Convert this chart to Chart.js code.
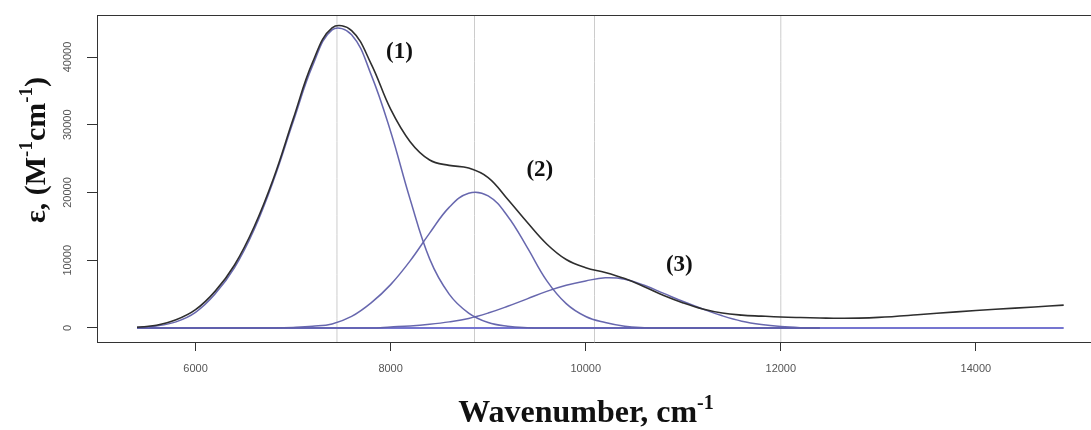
<!DOCTYPE html>
<html>
<head>
<meta charset="utf-8">
<script src="https://cdn.jsdelivr.net/npm/chart.js@4"></script>
<style>
  html, body { margin: 0; padding: 0; background: #fff; }
</style>
</head>
<body>
<canvas id="spectrum-chart" width="1091" height="430"></canvas>
<script>
// wavenumber grid (cm-1) for the fitted bands
const wavenumbers = [5400, 5600, 5800, 6000, 6200, 6400, 6600, 6800, 7000, 7200, 7400, 7600,
  7800, 8000, 8200, 8400, 8600, 8800, 9000, 9200, 9400, 9600, 9800, 10000,
  10200, 10400, 10600, 10800, 11000, 11200, 11400, 11600, 11800, 12000, 12200, 12400];

const band1 = [100, 300, 900, 2300, 5000, 8900, 14500, 21800, 30400, 38700, 44000, 43300,
  37400, 29000, 19000, 10200, 5000, 2200, 800, 250, 50, 0, 0, 0,
  0, 0, 0, 0, 0, 0, 0, 0, 0, 0, 0, 0];

const band2 = [0, 0, 0, 0, 0, 0, 0, 0, 80, 250, 600, 1700,
  3700, 6400, 9900, 14000, 17800, 19900, 19500, 16500, 11900, 7000, 3600, 1700,
  800, 250, 50, 0, 0, 0, 0, 0, 0, 0, 0, 0];

const band3 = [0, 0, 0, 0, 0, 0, 0, 0, 0, 0, 0, 0,
  0, 150, 300, 550, 900, 1400, 2200, 3200, 4300, 5400, 6300, 6950,
  7400, 7200, 6300, 5100, 3900, 2800, 1800, 1000, 500, 200, 50, 0];

const measured = [100, 400, 1200, 2700, 5400, 9300, 14900, 22100, 30800, 39200, 44300, 43900,
  39000, 32300, 27500, 24800, 24000, 23600, 22200, 19000, 15600, 12400, 10100, 8900,
  8200, 7300, 6100, 4800, 3700, 2800, 2200, 1900, 1750, 1620, 1540, 1480];

// measured spectrum keeps going past the last band
const tailWavenumbers = [12600, 12800, 13000, 13400, 13800, 14200, 14600, 14900];
const measuredTail = [1430, 1450, 1560, 1950, 2380, 2760, 3100, 3380];

const baselineRange = [5400, 14900];
const bandCenters = [7450, 8860, 10090, 12000];

const xTicks = [6000, 8000, 10000, 12000, 14000];
const yTicks = [0, 10000, 20000, 30000, 40000];
const xLimits = [4990, 15180];
const yLimits = [-2070, 46200];

const bandLabels = ["(1)", "(2)", "(3)"];
const bandLabelX = [8090, 9530, 10960];
const bandLabelY = [40700, 23300, 9300];

const toPoints = (xs, ys) => xs.map((x, i) => ({ x: x, y: ys[i] }));

const bandColor = "rgba(95, 95, 170, 0.95)";

const lineSet = (data, color, width, order) => ({
  data: data,
  borderColor: color,
  borderWidth: width,
  pointRadius: 0,
  tension: 0.4,
  fill: false,
  order: order,
});

const drawRich = (ctx, parts, cx, baseY, size) => {
  const mainFont = `bold ${size}px "Liberation Serif", "Times New Roman", serif`;
  const supFont = `bold ${Math.round(size * 0.62)}px "Liberation Serif", "Times New Roman", serif`;
  let total = 0;
  parts.forEach((p) => {
    ctx.font = p.sup ? supFont : mainFont;
    total += ctx.measureText(p.t).width;
  });
  let x = cx - total / 2;
  ctx.textAlign = "left";
  ctx.textBaseline = "alphabetic";
  parts.forEach((p) => {
    ctx.font = p.sup ? supFont : mainFont;
    ctx.fillText(p.t, x, p.sup ? baseY - size * 0.42 : baseY);
    x += ctx.measureText(p.t).width;
  });
};

const decorations = {
  id: "decorations",
  afterDraw(chart) {
    const { ctx, chartArea, scales } = chart;
    ctx.save();
    // top edge of the box
    ctx.strokeStyle = "#333";
    ctx.lineWidth = 1;
    ctx.beginPath();
    ctx.moveTo(chartArea.left, chartArea.top + 0.5);
    ctx.lineTo(chartArea.right, chartArea.top + 0.5);
    ctx.stroke();

    // rotated y tick labels
    ctx.fillStyle = "#555";
    ctx.font = '11px "Liberation Sans", Arial, sans-serif';
    ctx.textAlign = "center";
    ctx.textBaseline = "middle";
    yTicks.forEach((v) => {
      const py = scales.y.getPixelForValue(v);
      ctx.save();
      ctx.translate(68, py);
      ctx.rotate(-Math.PI / 2);
      ctx.fillText(String(v), 0, 0);
      ctx.restore();
    });

    // axis titles
    ctx.fillStyle = "#111";
    drawRich(ctx, [
      { t: "Wavenumber, cm" },
      { t: "-1", sup: true },
    ], 586, 422, 32);

    ctx.save();
    ctx.translate(45, 150);
    ctx.rotate(-Math.PI / 2);
    drawRich(ctx, [
      { t: "\u03b5, (M" },
      { t: "-1", sup: true },
      { t: "cm" },
      { t: "-1", sup: true },
      { t: ")" },
    ], 0, 0, 30);
    ctx.restore();

    // band labels
    ctx.font = 'bold 23px "Liberation Serif", "Times New Roman", serif';
    ctx.textAlign = "center";
    ctx.textBaseline = "middle";
    bandLabels.forEach((txt, i) => {
      ctx.fillText(txt,
        scales.x.getPixelForValue(bandLabelX[i]),
        scales.y.getPixelForValue(bandLabelY[i]));
    });
    ctx.restore();
  },
};

const datasets = [
  lineSet(toPoints(wavenumbers.concat(tailWavenumbers), measured.concat(measuredTail)), "#2e2e2e", 1.6, 1),
  lineSet(toPoints(wavenumbers, band1), bandColor, 1.5, 2),
  lineSet(toPoints(wavenumbers, band2), bandColor, 1.5, 2),
  lineSet(toPoints(wavenumbers, band3), bandColor, 1.5, 2),
  lineSet(toPoints(baselineRange, [0, 0]), "rgba(110, 110, 205, 0.95)", 2, 3),
];
bandCenters.forEach((c) => {
  datasets.push(lineSet(toPoints([c, c], yLimits), "#cccccc", 1, 10));
});

const config = {
  type: "line",
  data: { datasets: datasets },
  options: {
    responsive: false,
    animation: false,
    devicePixelRatio: 1,
    layout: { padding: { top: 15, left: 0, right: 0, bottom: 0 } },
    plugins: {
      legend: { display: false },
      tooltip: { enabled: false },
    },
    scales: {
      x: {
        type: "linear",
        min: xLimits[0],
        max: xLimits[1],
        afterBuildTicks: (s) => { s.ticks = xTicks.map((v) => ({ value: v })); },
        afterFit: (s) => { s.height = 88; },
        ticks: {
          color: "#555",
          font: { family: '"Liberation Sans", Arial, sans-serif', size: 11 },
          maxRotation: 0,
          padding: 11,
          callback: (v) => String(v),
        },
        grid: { drawOnChartArea: false, drawTicks: true, tickLength: 9, color: "#333" },
        border: { display: true, color: "#333", width: 1 },
      },
      y: {
        type: "linear",
        min: yLimits[0],
        max: yLimits[1],
        afterBuildTicks: (s) => { s.ticks = yTicks.map((v) => ({ value: v })); },
        afterFit: (s) => { s.width = 97; },
        ticks: { display: false },
        grid: { drawOnChartArea: false, drawTicks: true, tickLength: 10, color: "#333" },
        border: { display: true, color: "#333", width: 1 },
      },
    },
  },
  plugins: [decorations],
};

new Chart(document.getElementById("spectrum-chart"), config);
</script>
</body>
</html>
